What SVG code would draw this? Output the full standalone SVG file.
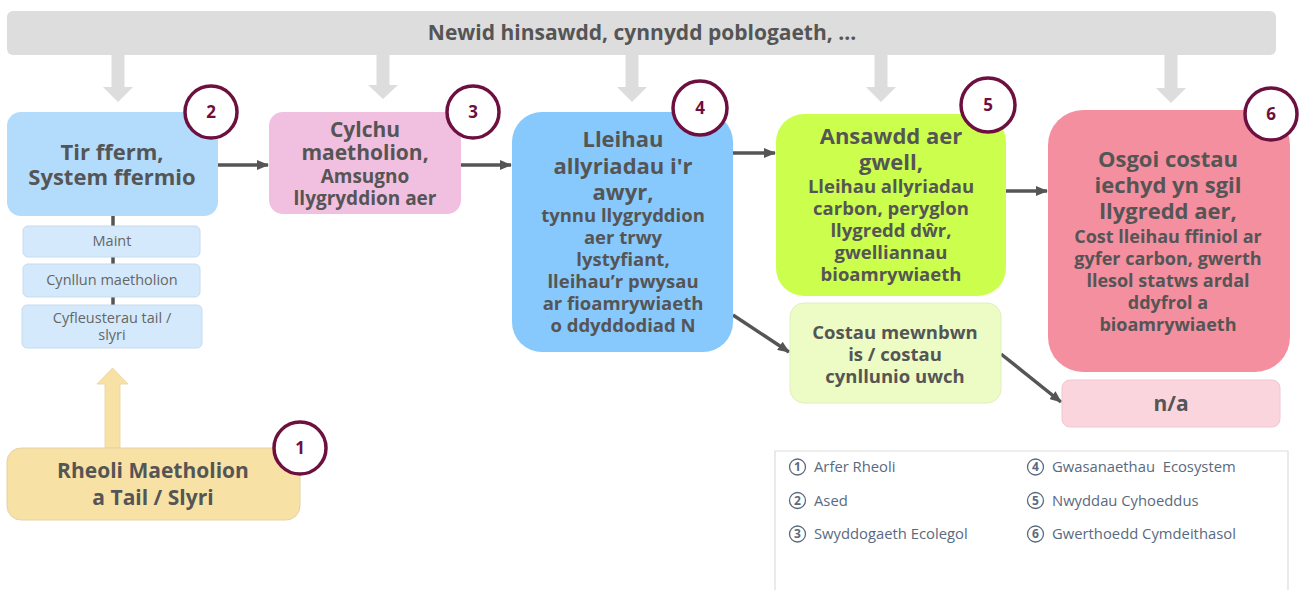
<svg xmlns="http://www.w3.org/2000/svg" width="1302" height="590" viewBox="0 0 1302 590">
<defs>
<marker id="ah" markerWidth="12" markerHeight="10" refX="11" refY="5" orient="auto" markerUnits="userSpaceOnUse">
<path d="M0,0 L12,5 L0,10 Z" fill="#555"/>
</marker>
<style>
.t{font-family:"Open Sans","Noto Sans","Liberation Sans",sans-serif;font-weight:bold;fill:#555;text-anchor:middle}
.s{font-family:"Open Sans","Noto Sans","Liberation Sans",sans-serif;fill:#666;text-anchor:middle;font-size:14.5px}
.lg{font-family:"Open Sans","Noto Sans","Liberation Sans",sans-serif;fill:#5a6a7e;font-size:14.8px}
.lgn{font-family:"Open Sans","Noto Sans","Liberation Sans",sans-serif;fill:#5a6a7e;font-size:12px;font-weight:bold;text-anchor:middle}
.lgc{fill:none;stroke:#5a6a7e;stroke-width:1.3}
.badge{fill:#fff;stroke:#6d1040;stroke-width:3.5}
.bn{font-family:"Open Sans","Noto Sans","Liberation Sans",sans-serif;font-weight:bold;fill:#6d1040;font-size:17px;text-anchor:middle}
.conn{stroke:#555;stroke-width:3.5;fill:none;marker-end:url(#ah)}
.garrow{fill:#dddddd}
.sub{fill:#d4eafc;stroke:#c6dbee;stroke-width:1}
</style>
</defs>

<g id="drivers">
<rect x="7" y="11" width="1269" height="44" rx="6" fill="#dddddd"/>
<text class="t" x="642" y="40" font-size="21">Newid hinsawdd, cynnydd poblogaeth, ...</text>
<path class="garrow" d="M111.5,55 H124.5 V87 H133 L118,102 L103,87 H111.5 Z"/>
<path class="garrow" d="M376.5,55 H389.5 V85 H398 L383,99 L368,85 H376.5 Z"/>
<path class="garrow" d="M625.5,55 H638.5 V87 H647 L632,102 L617,87 H625.5 Z"/>
<path class="garrow" d="M874.5,55 H887.5 V87 H896 L881,102 L866,87 H874.5 Z"/>
<path class="garrow" d="M1164.5,55 H1177.5 V88 H1186 L1171,103 L1156,88 H1164.5 Z"/>
</g>

<g id="connectors">
<line class="conn" x1="218" y1="165" x2="268" y2="165"/>
<line class="conn" x1="461" y1="165" x2="511" y2="165"/>
<line class="conn" x1="733" y1="153" x2="775" y2="153"/>
<line class="conn" x1="1006" y1="191" x2="1047" y2="191"/>
<line class="conn" x1="733" y1="315" x2="789" y2="352"/>
<line class="conn" x1="1001" y1="354" x2="1061" y2="402"/>
<line x1="113" y1="216" x2="113" y2="305" stroke="#555" stroke-width="3.5"/>
<path d="M105,448 V384 H97 L112.5,368 L128,384 H120 V448 Z" fill="#f8e1a5" stroke="#e6d3a0" stroke-width="0.8"/>
</g>

<g id="node1">
<rect x="7" y="448" width="293" height="72" rx="14" fill="#f8e1a5" stroke="#e3d2a5" stroke-width="1"/>
<text class="t" x="153" y="478" font-size="21">Rheoli Maetholion</text>
<text class="t" x="153" y="505" font-size="21">a Tail / Slyri</text>
<circle class="badge" cx="300" cy="448" r="26"/>
<text class="bn" x="300" y="454">1</text>
</g>

<g id="node2">
<rect x="7" y="112" width="211" height="104" rx="14" fill="#b3dcfc"/>
<text class="t" x="112" y="160" font-size="22">Tir fferm,</text>
<text class="t" x="112" y="185" font-size="22">System ffermio</text>
<circle class="badge" cx="211" cy="112" r="26"/>
<text class="bn" x="211" y="118">2</text>
</g>

<g id="sub-maint">
<rect class="sub" x="23" y="226" width="177" height="31" rx="5"/>
<text class="s" x="112" y="246">Maint</text>
</g>
<g id="sub-cynllun">
<rect class="sub" x="23" y="264" width="177" height="33" rx="5"/>
<text class="s" x="112" y="285">Cynllun maetholion</text>
</g>
<g id="sub-cyfleusterau">
<rect class="sub" x="22" y="305" width="180" height="43" rx="5"/>
<text class="s" x="112" y="323">Cyfleusterau tail /</text>
<text class="s" x="112" y="340">slyri</text>
</g>

<g id="node3">
<rect x="269" y="112" width="192" height="102" rx="14" fill="#f1bfdf"/>
<text class="t" x="365" y="137" font-size="21">Cylchu</text>
<text class="t" x="365" y="160" font-size="21">maetholion,</text>
<text class="t" x="365" y="183" font-size="19">Amsugno</text>
<text class="t" x="365" y="205" font-size="19">llygryddion aer</text>
<circle class="badge" cx="473" cy="112" r="26"/>
<text class="bn" x="473" y="118">3</text>
</g>

<g id="node4">
<rect x="512" y="112" width="221" height="240" rx="30" fill="#87c9fc"/>
<text class="t" x="623" y="147" font-size="22">Lleihau</text>
<text class="t" x="623" y="174" font-size="22">allyriadau i'r</text>
<text class="t" x="623" y="200" font-size="22">awyr,</text>
<g font-size="18.5">
<text class="t" x="623" y="222">tynnu llygryddion</text>
<text class="t" x="623" y="244">aer trwy</text>
<text class="t" x="623" y="266">lystyfiant,</text>
<text class="t" x="623" y="288">lleihau’r pwysau</text>
<text class="t" x="623" y="310">ar fioamrywiaeth</text>
<text class="t" x="623" y="332">o ddyddodiad N</text>
</g>
<circle class="badge" cx="700" cy="108" r="27"/>
<text class="bn" x="700" y="114">4</text>
</g>

<g id="node5">
<rect x="776" y="114" width="230" height="182" rx="28" fill="#ccff4d"/>
<text class="t" x="891" y="144" font-size="22">Ansawdd aer</text>
<text class="t" x="891" y="170" font-size="22">gwell,</text>
<g font-size="18.5">
<text class="t" x="891" y="193">Lleihau allyriadau</text>
<text class="t" x="891" y="215">carbon, peryglon</text>
<text class="t" x="891" y="237">llygredd dŵr,</text>
<text class="t" x="891" y="259">gwelliannau</text>
<text class="t" x="891" y="281">bioamrywiaeth</text>
</g>
<circle class="badge" cx="988" cy="105" r="27"/>
<text class="bn" x="988" y="111">5</text>
</g>

<g id="node5b">
<rect x="790" y="303" width="211" height="100" rx="14" fill="#ecfcc4" stroke="#e0eec0" stroke-width="1"/>
<text class="t" x="895" y="339" font-size="18.5">Costau mewnbwn</text>
<text class="t" x="895" y="361" font-size="18.5">is / costau</text>
<text class="t" x="895" y="383" font-size="18.5">cynllunio uwch</text>
</g>

<g id="node6">
<rect x="1048" y="110" width="242" height="262" rx="35" fill="#f48fa0"/>
<text class="t" x="1168" y="167" font-size="22">Osgoi costau</text>
<text class="t" x="1168" y="193" font-size="22">iechyd yn sgil</text>
<text class="t" x="1168" y="219" font-size="22">llygredd aer,</text>
<g font-size="18">
<text class="t" x="1168" y="243">Cost lleihau ffiniol ar</text>
<text class="t" x="1168" y="265">gyfer carbon, gwerth</text>
<text class="t" x="1168" y="287">llesol statws ardal</text>
<text class="t" x="1168" y="309">ddyfrol a</text>
<text class="t" x="1168" y="331">bioamrywiaeth</text>
</g>
<circle class="badge" cx="1271" cy="114" r="26"/>
<text class="bn" x="1271" y="120">6</text>
</g>

<g id="node6b">
<rect x="1062" y="380" width="218" height="47" rx="8" fill="#fbd5de" stroke="#efc6d0" stroke-width="1"/>
<text class="t" x="1171" y="411" font-size="21">n/a</text>
</g>

<g id="legend">
<path d="M775,590 V451 H1288 V590" fill="#fff" stroke="#dddddd" stroke-width="1.2"/>
<circle class="lgc" cx="797.5" cy="467" r="8"/><text class="lgn" x="797.5" y="471.3">1</text>
<text class="lg" x="814" y="472">Arfer Rheoli</text>
<circle class="lgc" cx="797.5" cy="500.5" r="8"/><text class="lgn" x="797.5" y="504.8">2</text>
<text class="lg" x="814" y="505.5">Ased</text>
<circle class="lgc" cx="797.5" cy="534" r="8"/><text class="lgn" x="797.5" y="538.3">3</text>
<text class="lg" x="814" y="539">Swyddogaeth Ecolegol</text>
<circle class="lgc" cx="1035.5" cy="467" r="8"/><text class="lgn" x="1035.5" y="471.3">4</text>
<text class="lg" x="1052" y="472">Gwasanaethau&#160; Ecosystem</text>
<circle class="lgc" cx="1035.5" cy="500.5" r="8"/><text class="lgn" x="1035.5" y="504.8">5</text>
<text class="lg" x="1052" y="505.5">Nwyddau Cyhoeddus</text>
<circle class="lgc" cx="1035.5" cy="534" r="8"/><text class="lgn" x="1035.5" y="538.3">6</text>
<text class="lg" x="1052" y="539">Gwerthoedd Cymdeithasol</text>
</g>
</svg>
